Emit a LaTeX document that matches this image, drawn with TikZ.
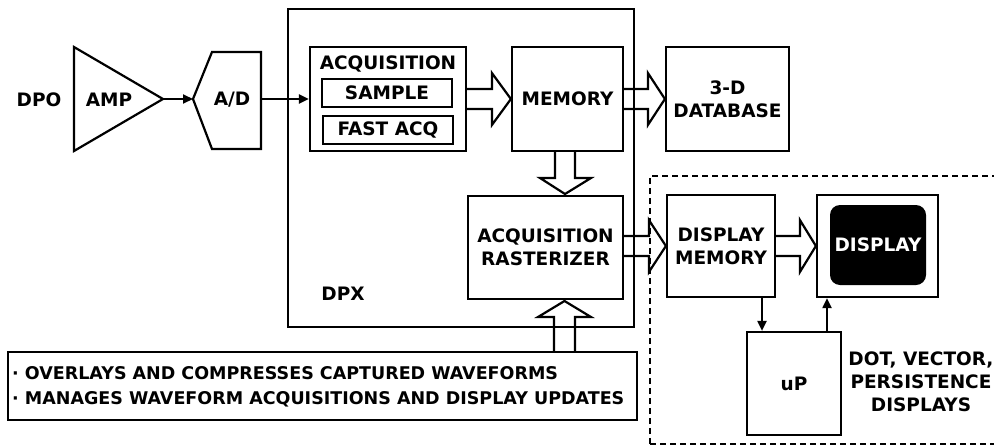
\documentclass[tikz,border=0pt]{standalone}
\usepackage{fontspec}
\setmainfont{DejaVu Sans}
\usetikzlibrary{arrows.meta,calc}
\tikzset{
  box/.style={draw, line width=2.2pt, rectangle, inner sep=0pt, align=center},
  lbl/.style={font=\bfseries\fontsize{18.5}{23}\selectfont, align=center, inner sep=0pt},
  conn/.style={line width=2pt, -{Triangle[length=10pt,width=9pt]}},
  blk/.style={line width=2.2pt, line join=miter},
  dline/.style={line width=2pt, dash pattern=on 6pt off 4pt}
}
\begin{document}
\begin{tikzpicture}[x=1pt,y=-1pt]
\useasboundingbox (0,0) rectangle (994,445);
% DPX frame
\draw[line width=2.2pt] (288,9) rectangle (634,327);
\node[lbl] (dpxl) at (343,294) {DPX};
% dashed region
\draw[dline] (650,444) -- (650,176) -- (1000,176);
\draw[dline, line width=1.5pt] (650,444) -- (1000,444);
% input
\node[lbl] (dpo) at (39,100) {DPO};
\draw[line width=2.2pt, line join=miter] (74,47) -- (163,99) -- (74,151) -- cycle;
\coordinate (ampout) at (163,99);
\node[lbl] (amp) at (109,100) {AMP};
\draw[line width=2.2pt, line join=miter] (193,99) -- (212,52) -- (261,52) -- (261,149) -- (212,149) -- cycle;
\coordinate (adin) at (193,99);
\coordinate (adout) at (261,99);
\node[lbl] (ad) at (232,100) {A/D};
% acquisition
\node[box, minimum width=156, minimum height=104] (acq) at (388,99) {};
\node[lbl] (acqt) at (388,64) {ACQUISITION};
\node[box, minimum width=130, minimum height=28] (sample) at (387,93) {};
\node[lbl] at (sample) {SAMPLE};
\node[box, minimum width=130, minimum height=28] (fast) at (388,130) {};
\node[lbl] at (fast) {FAST ACQ};
\node[box, minimum width=111, minimum height=104, lbl] (mem) at (567.5,99) {MEMORY};
\node[box, minimum width=123, minimum height=104, lbl] (db) at (727.5,99) {3-D\\DATABASE};
\node[box, minimum width=155, minimum height=103, lbl] (ras) at (545.5,247.5) {ACQUISITION\\RASTERIZER};
\node[box, minimum width=108, minimum height=102, lbl] (dm) at (721,246) {DISPLAY\\MEMORY};
\node[box, minimum width=121, minimum height=102] (disp) at (877.5,246) {};
\node[fill=black, rounded corners=10pt, minimum width=96, minimum height=80, inner sep=0pt,
      text=white, lbl] (scr) at (878,245) {DISPLAY};
\node[box, minimum width=94, minimum height=103, lbl] (up) at (794,383.5) {uP};
\node[lbl] (modes) at (921,382) {DOT, VECTOR,\\PERSISTENCE\\DISPLAYS};
\node[box, minimum width=629, minimum height=68] (bot) at (322.5,386) {};
\node[lbl, font=\bfseries\fontsize{17.5}{25}\selectfont, anchor=west, align=left] (bott) at (12,387)
  {· OVERLAYS AND COMPRESSES CAPTURED WAVEFORMS\\· MANAGES WAVEFORM ACQUISITIONS AND DISPLAY UPDATES};
% thin connectors
\draw[conn] (ampout) -- (adin);
\draw[conn] (adout) -- (acq.west);
\draw[conn] (dm.south -| 762,0) -- (up.north -| 762,0);
\draw[conn] (up.north -| 827,0) -- (disp.south -| 827,0);
% block arrows (right)
\newcommand\blkR[3]{% tail, tip, head length
  \draw[blk] ($(#1)+(0,-10)$) -- ($(#2)+(-#3,-10)$) -- ($(#2)+(-#3,-26)$) -- (#2)
     -- ($(#2)+(-#3,26)$) -- ($(#2)+(-#3,10)$) -- ($(#1)+(0,10)$);}
\blkR{acq.east}{mem.west}{19}
\blkR{mem.east}{db.west}{17}
\blkR{ras.east |- dm.west}{dm.west}{17}
\blkR{dm.east}{disp.west}{16}
% vertical block arrows
\draw[blk] (555,151) -- (555,178) -- (540,178) -- (565,194) -- (591,178) -- (575,178) -- (575,151);
\draw[blk] (554,352) -- (554,317) -- (538,317) -- (564.5,301) -- (591,317) -- (575,317) -- (575,352);
\end{tikzpicture}
\end{document}
